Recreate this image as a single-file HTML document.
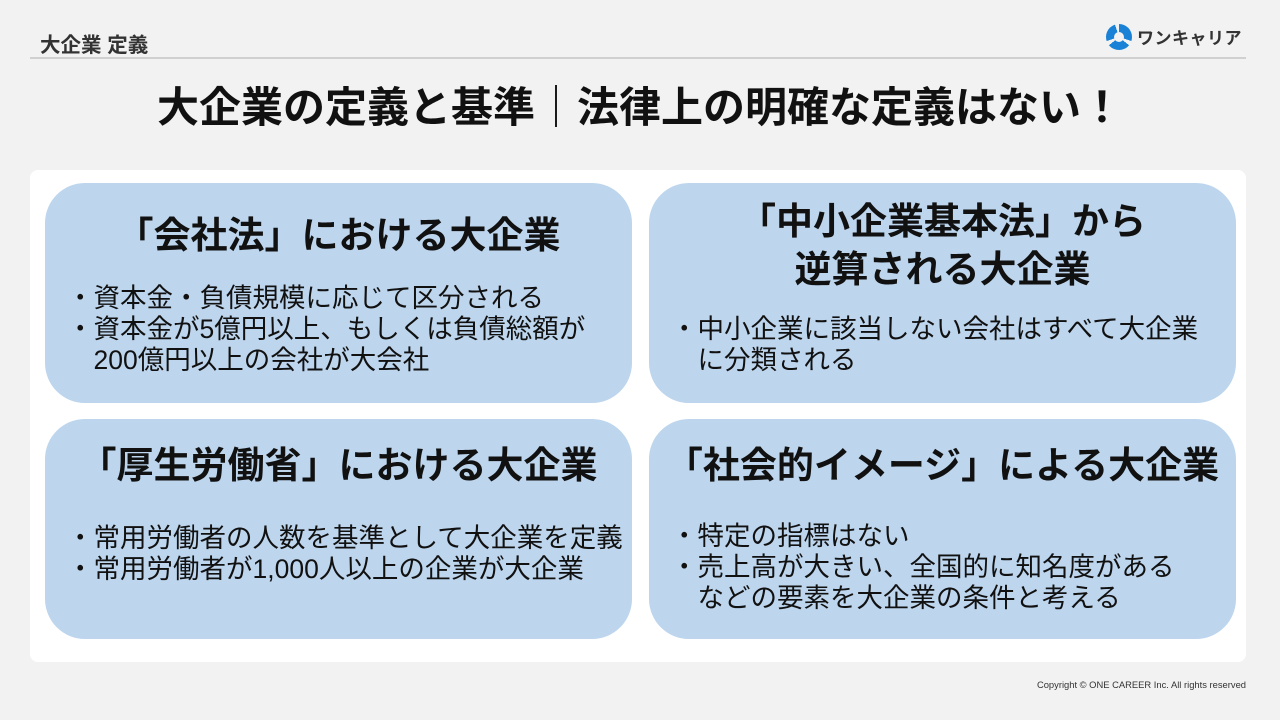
<!DOCTYPE html>
<html><head><meta charset="utf-8"><style>
*{margin:0;padding:0;box-sizing:border-box}
body{width:1280px;height:720px;background:#f2f2f2;position:relative;overflow:hidden;font-family:"Liberation Sans","Noto Sans CJK JP",sans-serif;color:#111}
.a{position:absolute;white-space:nowrap}
.card{position:absolute;background:#bdd5ed;border-radius:40px;width:587px;height:220px}
.t{position:absolute;left:0;width:587px;text-align:center;font-weight:bold;font-size:37px;line-height:48px}
.b{position:absolute;font-size:26.5px;line-height:31px;white-space:nowrap}
</style></head><body>
<div class="a" style="left:40px;top:28px;font-size:20.5px;font-weight:bold;color:#333">大企業 定義</div>
<div class="a" style="left:1106px;top:24px;width:26px;height:26px;border-radius:50%;background:conic-gradient(#1a82d6 0 30%,#f2f2f2 30% 36%,#1a82d6 36% 64%,#f2f2f2 64% 70%,#1a82d6 70% 95%,#f2f2f2 95%)"></div>
<div class="a" style="left:1114px;top:32px;width:10px;height:10px;border-radius:50%;background:#f2f2f2"></div>
<div class="a" style="left:1137px;top:24px;font-size:17px;font-weight:bold;color:#333;letter-spacing:0.5px">ワンキャリア</div>
<div class="a" style="left:30px;top:57px;width:1216px;height:2px;background:#d0d0d0"></div>
<div class="a" style="left:0;width:1280px;top:83px;text-align:center;font-size:42px;font-weight:bold;line-height:50px">大企業の定義と基準｜法律上の明確な定義はない！</div>
<div class="a" style="left:30px;top:170px;width:1216px;height:492px;background:#fff;border-radius:8px"></div>

<div class="card" style="left:45px;top:183px">
<div class="t" style="top:29px">「会社法」における大企業</div>
<div class="b" style="left:22px;top:100px">・資本金・負債規模に応じて区分される<br>・資本金が5億円以上、もしくは負債総額が<br>　200億円以上の会社が大会社</div>
</div>
<div class="card" style="left:649px;top:183px">
<div class="t" style="top:15px">「中小企業基本法」から<br>逆算される大企業</div>
<div class="b" style="left:22px;top:131px">・中小企業に該当しない会社はすべて大企業<br>　に分類される</div>
</div>
<div class="card" style="left:45px;top:419px">
<div class="t" style="top:23px">「厚生労働省」における大企業</div>
<div class="b" style="left:22px;top:104px">・常用労働者の人数を基準として大企業を定義<br>・常用労働者が1,000人以上の企業が大企業</div>
</div>
<div class="card" style="left:649px;top:419px">
<div class="t" style="top:23px">「社会的イメージ」による大企業</div>
<div class="b" style="left:22px;top:102px">・特定の指標はない<br>・売上高が大きい、全国的に知名度がある<br>　などの要素を大企業の条件と考える</div>
</div>
<div class="a" style="right:34px;top:679px;font-size:9.4px;color:#333">Copyright © ONE CAREER Inc. All rights reserved</div>
</body></html>
